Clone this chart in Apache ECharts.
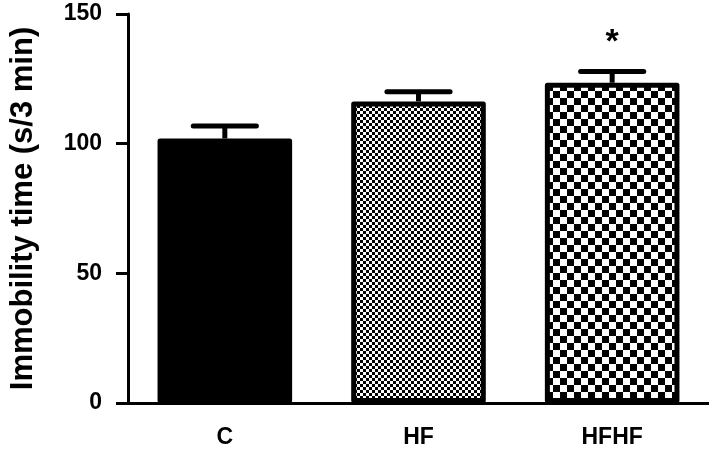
<!DOCTYPE html>
<html>
<head>
<meta charset="utf-8">
<script src="https://cdn.jsdelivr.net/npm/echarts@6/dist/echarts.min.js"></script>
<style>html,body{margin:0;padding:0;background:#fff;}#c{width:709px;height:456px;}</style>
</head>
<body>
<div id="c"></div>
<script>
var categories = ['C', 'HF', 'HFHF'];
var means = [102, 116.3, 123.5];
var sems = [4.8, 3.7, 4.3];
var significance = ['', '', '*'];
var yTicks = [0, 50, 100, 150];
var yAxisTitle = 'Immobility time (s/3 min)';

function checker(size) {
  var c = document.createElement('canvas');
  c.width = size * 2; c.height = size * 2;
  var g = c.getContext('2d');
  g.fillStyle = '#fff'; g.fillRect(0, 0, size * 2, size * 2);
  g.fillStyle = '#000';
  g.fillRect(0, 0, size, size);
  g.fillRect(size, size, size, size);
  return c;
}
var fills = ['#000', {image: checker(3), repeat: 'repeat'}, {image: checker(7), repeat: 'repeat'}];
var FONT = '"Liberation Sans", Arial, sans-serif';

var chart = echarts.init(document.getElementById('c'), null, {renderer: 'canvas'});
chart.setOption({
  animation: false,
  backgroundColor: '#fff',
  grid: {left: 121, right: 0, top: 14, bottom: 53, containLabel: false},
  xAxis: {
    type: 'category', data: categories,
    axisLine: {lineStyle: {color: '#000', width: 3}},
    axisTick: {alignWithLabel: true, length: 11, lineStyle: {color: '#000', width: 3}},
    axisLabel: {color: '#000', fontSize: 23, fontWeight: 'bold', fontFamily: FONT, margin: 23}
  },
  yAxis: {
    type: 'value', min: yTicks[0], max: yTicks[yTicks.length - 1], interval: 50,
    name: yAxisTitle, nameLocation: 'middle', nameGap: 89,
    nameTextStyle: {color: '#000', fontSize: 31, fontWeight: 'bold', fontFamily: FONT},
    axisLine: {show: true, lineStyle: {color: '#000', width: 3}},
    axisTick: {show: true, length: 12, lineStyle: {color: '#000', width: 3}},
    axisLabel: {color: '#000', fontSize: 23, fontWeight: 'bold', fontFamily: FONT, margin: 26},
    splitLine: {show: false}
  },
  series: [
    {
      type: 'custom',
      z: 1,
      renderItem: function (params, api) {
        var i = api.value(0);
        var m = api.value(1), e = api.value(2);
        var top = api.coord([i, m + e]);
        var base = api.coord([i, m]);
        var half = api.size([1, 0])[0] * 0.163;
        var children = [
          {type: 'line', shape: {x1: base[0], y1: base[1], x2: top[0], y2: top[1]}, style: {stroke: '#000', lineWidth: 5}},
          {type: 'line', shape: {x1: top[0] - half, y1: top[1], x2: top[0] + half, y2: top[1]}, style: {stroke: '#000', lineWidth: 5, lineCap: 'round'}}
        ];
        var s = significance[i];
        if (s) {
          children.push({type: 'text', x: top[0], y: top[1] - 29, style: {text: s, fill: '#000', font: 'bold 34px ' + FONT, align: 'center', verticalAlign: 'middle'}});
        }
        return {type: 'group', children: children};
      },
      data: categories.map(function (c, i) { return [i, means[i], sems[i]]; })
    },
    {
      type: 'bar',
      z: 2,
      barWidth: '69.5%',
      data: means.map(function (v, i) {
        return {value: v, itemStyle: {color: fills[i], borderColor: '#000', borderWidth: 5, borderJoin: 'round'}};
      })
    }
  ]
});
</script>
</body>
</html>
